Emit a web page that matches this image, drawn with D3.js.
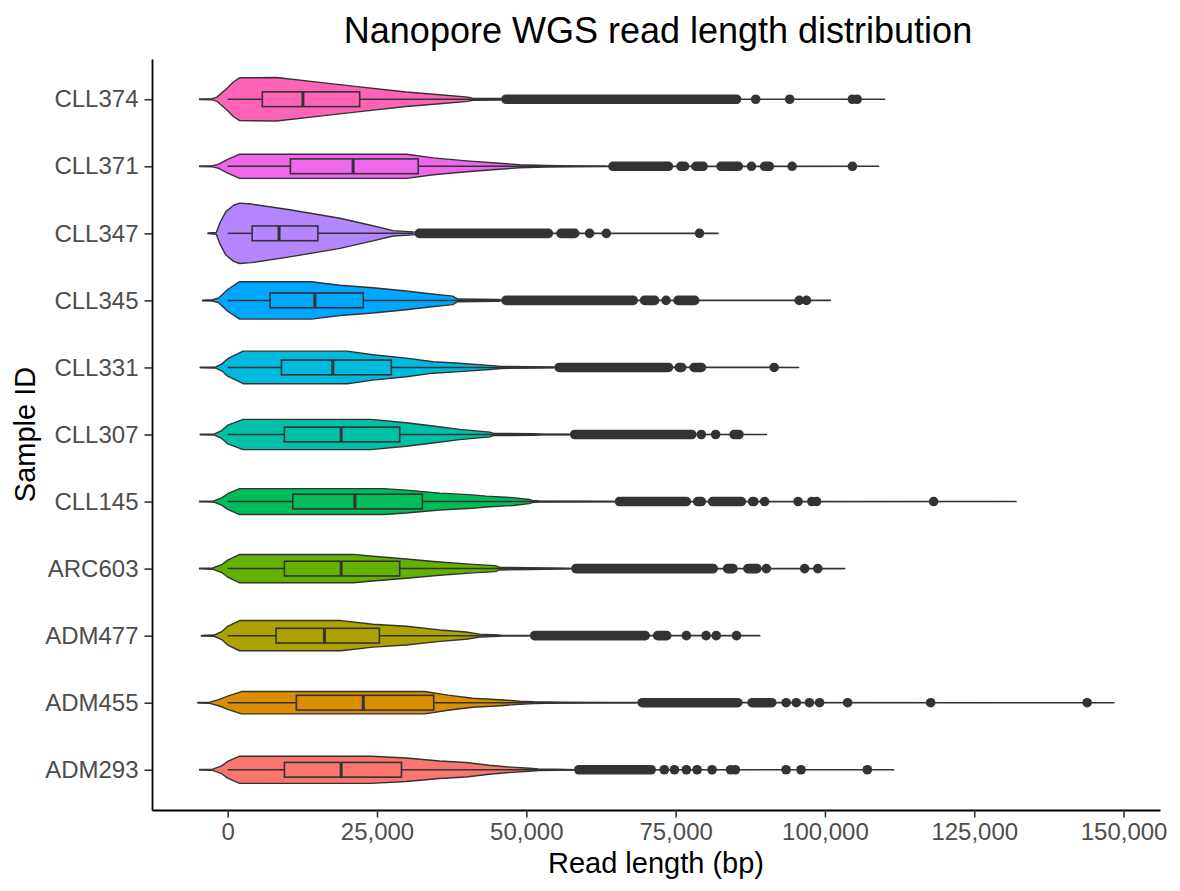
<!DOCTYPE html>
<html>
<head>
<meta charset="utf-8">
<script src="https://cdn.jsdelivr.net/npm/d3@7"></script>
<style>
body { margin: 0; background: #fff; }
text { font-family: "Liberation Sans", Arial, sans-serif; }
</style>
</head>
<body>
<script>
// factor order, bottom -> top (ggplot puts first level at the bottom)
var samples = ['ADM293', 'ADM455', 'ADM477', 'ARC603', 'CLL145', 'CLL307', 'CLL331', 'CLL345', 'CLL347', 'CLL371', 'CLL374'];
var fills = ['#F8766D', '#DB8E00', '#AEA200', '#64B200', '#00BD5C', '#00C1A7', '#00BADE', '#00A6FF', '#B385FF', '#EF67EB', '#FF63B6'];

// boxplot stats (kb)
var whiskerLo = [0, 0, 0, 0, 0, 0, 0, 0, 0, 0, 0];
var q1 = [9.5, 11.5, 8.1, 9.5, 10.9, 9.5, 9.0, 7.1, 4.1, 10.5, 5.8];
var median = [19.0, 22.7, 16.2, 19.0, 21.3, 19.0, 17.6, 14.6, 8.6, 21.0, 12.6];
var q3 = [29.1, 34.5, 25.4, 28.8, 32.6, 28.8, 27.4, 22.7, 15.1, 31.9, 22.1];
var whiskerHi = [57.8, 68.4, 50.4, 57.3, 64.6, 57.1, 54.5, 45.6, 31.1, 63.5, 45.6];

// violin outlines: [read length kb, relative density]
var violinADM293 = [[-4.7, .01], [-2.5, .02], [-1, .13], [0, .28], [2, .45], [24, .45], [29.9, .39], [35.5, .29], [39.9, .24], [43.8, .15], [46.6, .10], [50.5, .05], [52, .025], [55.1, .015], [58, .006], [111.5, .004]];
var violinADM455 = [[-5.0, .01], [-3, .02], [-1.5, .1], [0, .22], [2.3, .37], [33, .37], [36.9, .25], [41, .15], [45.6, .10], [48.9, .05], [51.3, .03], [56, .015], [63.7, .006], [148.4, .004]];
var violinADM477 = [[-4.4, .01], [-2.3, .02], [-1, .13], [0, .31], [2, .5], [19, .5], [24.3, .38], [29.9, .31], [35.5, .19], [39.9, .12], [42.2, .05], [45.3, .025], [46, .008], [89.1, .004]];
var violinARC603 = [[-4.7, .01], [-2.5, .02], [-1, .13], [0, .28], [2, .47], [21, .47], [24.3, .41], [29.9, .32], [35.5, .22], [41.1, .14], [44.8, .10], [45.5, .045], [50.3, .03], [55.9, .012], [57.5, .006], [103.3, .004]];
var violinCLL145 = [[-4.7, .01], [-2.3, .02], [-1, .12], [0, .26], [2, .43], [26, .43], [29.9, .38], [35.5, .28], [41, .22], [43.3, .18], [47.8, .13], [50.5, .07], [51, .035], [52.2, .018], [64.5, .006], [132, .004]];
var violinCLL307 = [[-4.6, .01], [-2.2, .02], [-1, .13], [0, .31], [2.6, .5], [24, .5], [29.9, .39], [34.4, .28], [38.8, .17], [43.9, .08], [44.5, .035], [51.4, .025], [52.8, .012], [57.3, .006], [90.2, .004]];
var violinCLL331 = [[-4.6, .01], [-2, .02], [-1, .11], [0, .29], [2.6, .54], [20, .54], [24.3, .42], [29.9, .31], [34.4, .19], [38.8, .14], [43.8, .07], [45.8, .035], [54.5, .015], [55, .006], [95.6, .004]];
var violinCLL345 = [[-4.2, .01], [-2.5, .02], [-1.5, .08], [0, .36], [2, .62], [14, .62], [18.8, .5], [24.3, .42], [29.9, .31], [33.8, .22], [37.7, .14], [38.5, .045], [45.3, .03], [46, .006], [100.9, .004]];
var violinCLL347 = [[-3.3, .01], [-1.9, .03], [-1.3, .35], [-0.3, .72], [1, .93], [2, 1], [4, .97], [10.4, .78], [18.8, .5], [24.3, .25], [27.7, .09], [31, .05], [35, .02], [40, .01], [58.9, .006], [82.1, .004]];
var violinCLL371 = [[-4.7, .01], [-2.5, .02], [-1.5, .07], [0, .23], [2, .4], [30, .4], [34.4, .28], [40, .18], [45.5, .10], [48.9, .05], [53.1, .028], [57.8, .015], [63.7, .006], [109, .004]];
var violinCLL374 = [[-4.7, .01], [-2.6, .02], [-1.8, .07], [0, .38], [1, .58], [2, .71], [8.2, .72], [15.4, .56], [22.1, .41], [29.9, .24], [36, .14], [40.2, .07], [41, .035], [45.8, .025], [50, .006], [110, .004]];

// outliers (kb): [v] single point, [from, to] run of overlapping points
var outADM293 = [[58.8, 70.9], [73.1], [74.8], [76.8], [78.6], [81.1], [84.2], [85.0], [93.5], [96.0], [107.1]];
var outADM455 = [[69.4, 85.4], [87.8, 91.1], [93.5], [95.2], [97.4], [99.1], [103.8], [117.7], [143.9]];
var outADM477 = [[51.4, 69.9], [72.0, 73.5], [76.8], [80.1], [81.8], [85.2]];
var outARC603 = [[58.3, 81.3], [83.7, 84.6], [87.1, 88.6], [90.2], [96.6], [98.8]];
var outCLL145 = [[65.6, 76.8], [78.7, 79.3], [81.2, 86.0], [87.9, 88.1], [89.9], [95.5], [97.8], [98.6], [118.2]];
var outCLL307 = [[58.1, 77.7], [79.3], [81.7], [84.8, 85.6]];
var outCLL331 = [[55.5, 73.8], [75.6, 76.0], [78.1, 79.3], [91.5]];
var outCLL345 = [[46.6, 67.9], [69.8, 71.5], [73.4], [75.4, 78.2], [95.7], [96.9]];
var outCLL347 = [[32.1, 53.7], [55.8, 58.1], [60.6], [63.4], [79.0]];
var outCLL371 = [[64.5, 73.8], [75.9, 76.5], [78.4, 79.6], [82.6, 85.5], [87.7], [89.9, 90.7], [94.5], [104.6]];
var outCLL374 = [[46.6, 85.2], [88.4], [94.1], [104.6], [105.4]];

var violins = [violinADM293, violinADM455, violinADM477, violinARC603, violinCLL145, violinCLL307, violinCLL331, violinCLL345, violinCLL347, violinCLL371, violinCLL374];
var outliers = [outADM293, outADM455, outADM477, outARC603, outCLL145, outCLL307, outCLL331, outCLL345, outCLL347, outCLL371, outCLL374];

var xTicks = [0, 25000, 50000, 75000, 100000, 125000, 150000];

var width = 1180, height = 891;
var kb = 1000;
var ink = '#333333';

var svg = d3.select("body").append("svg")
    .attr("width", width)
    .attr("height", height);

var x = d3.scaleLinear().domain([-12670, 156100]).range([152, 1160]);
var y = d3.scalePoint().domain(samples).range([810, 59]).padding(0.6);
var w = d3.scaleLinear().domain([0, 1]).range([0, y.step() * 0.45]);
var boxHalf = y.step() * 0.11;
var r = 4.8;

var plot = svg.append("g");

// violins
samples.forEach(function(s, i) {
    var cy = y(s);
    var area = d3.area()
        .x(function(d) { return x(d[0] * kb); })
        .y0(function(d) { return cy + w(d[1]); })
        .y1(function(d) { return cy - w(d[1]); });
    plot.append("path")
        .attr("d", area(violins[i]))
        .style("fill", fills[i])
        .style("stroke", ink)
        .style("stroke-width", 1.4)
        .style("stroke-linejoin", "round");
});

// boxplots + outliers
samples.forEach(function(s, i) {
    var cy = y(s);
    var g = plot.append("g");
    g.append("line")
        .attr("x1", x(whiskerLo[i] * kb)).attr("x2", x(q1[i] * kb))
        .attr("y1", cy).attr("y2", cy)
        .style("stroke", ink).style("stroke-width", 1.5);
    g.append("line")
        .attr("x1", x(q3[i] * kb)).attr("x2", x(whiskerHi[i] * kb))
        .attr("y1", cy).attr("y2", cy)
        .style("stroke", ink).style("stroke-width", 1.5);
    g.append("rect")
        .attr("x", x(q1[i] * kb))
        .attr("y", cy - boxHalf)
        .attr("width", x(q3[i] * kb) - x(q1[i] * kb))
        .attr("height", boxHalf * 2)
        .style("fill", fills[i])
        .style("stroke", ink)
        .style("stroke-width", 1.6);
    g.append("line")
        .attr("x1", x(median[i] * kb)).attr("x2", x(median[i] * kb))
        .attr("y1", cy - boxHalf).attr("y2", cy + boxHalf)
        .style("stroke", ink).style("stroke-width", 3);

    outliers[i].forEach(function(o) {
        var a = o[0], b = o.length > 1 ? o[1] : o[0];
        g.append("line")
            .attr("x1", x(a * kb)).attr("x2", x(b * kb) + 0.01)
            .attr("y1", cy).attr("y2", cy)
            .style("stroke", ink)
            .style("stroke-width", r * 2)
            .style("stroke-linecap", "round");
    });
});

// axes
var xAxis = d3.axisBottom(x)
    .tickValues(xTicks)
    .tickFormat(d3.format(","))
    .tickSize(7.5)
    .tickSizeOuter(0)
    .tickPadding(5);
var gx = svg.append("g")
    .attr("transform", "translate(0,810)")
    .call(xAxis);

var yAxis = d3.axisLeft(y)
    .tickSize(7.5)
    .tickSizeOuter(0)
    .tickPadding(6);
var gy = svg.append("g")
    .attr("transform", "translate(152,0)")
    .call(yAxis);

[gx, gy].forEach(function(g) {
    g.select(".domain").style("stroke", "#000").style("stroke-width", 1.8);
    g.selectAll(".tick line").style("stroke", "#333").style("stroke-width", 1.6);
    g.selectAll(".tick text")
        .style("font-family", '"Liberation Sans", Arial, sans-serif')
        .style("font-size", "24px")
        .style("fill", "#4D4D4D");
});

// titles
svg.append("text")
    .attr("x", 658).attr("y", 43)
    .attr("text-anchor", "middle")
    .style("font-size", "36px")
    .style("fill", "#000")
    .text("Nanopore WGS read length distribution");

svg.append("text")
    .attr("x", 656).attr("y", 873)
    .attr("text-anchor", "middle")
    .style("font-size", "29px")
    .style("fill", "#000")
    .text("Read length (bp)");

svg.append("text")
    .attr("transform", "translate(35,434.5) rotate(-90)")
    .attr("text-anchor", "middle")
    .style("font-size", "29px")
    .style("fill", "#000")
    .text("Sample ID");
</script>
</body>
</html>
